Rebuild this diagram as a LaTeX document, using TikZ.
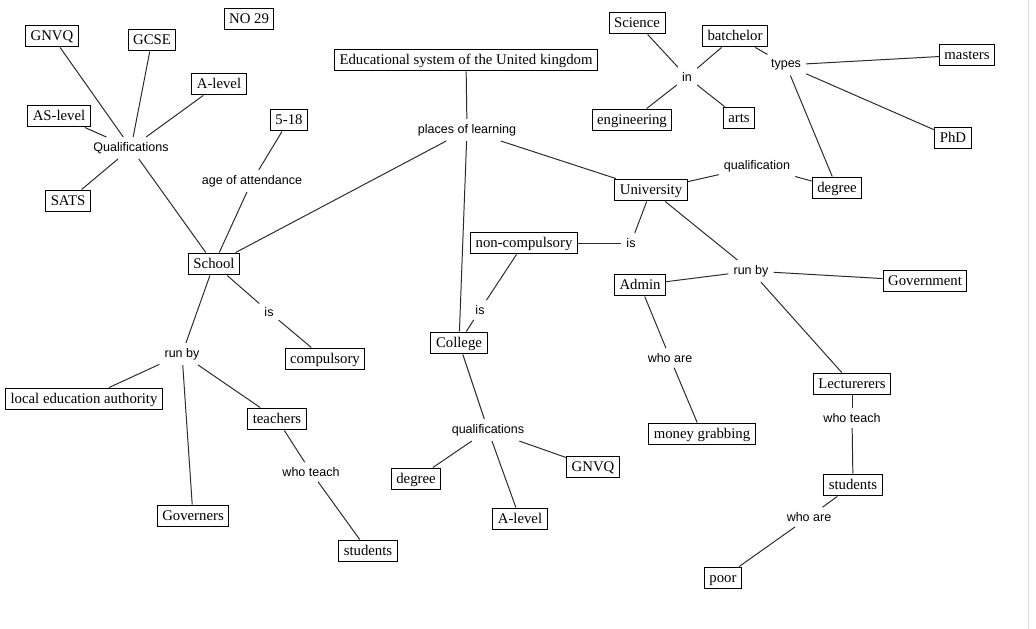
\documentclass[tikz,border=0pt]{standalone}
\usepackage{fontspec}
\setmainfont{Liberation Serif}
\setsansfont{Liberation Sans}
\usetikzlibrary{positioning}
\definecolor{cline}{HTML}{2A2A2A}
\definecolor{cedge}{HTML}{DADADA}
\tikzset{
  box/.style={draw=black, line width=0.7pt, font=\fontsize{10.5}{12}\selectfont,
              inner xsep=3.6pt, inner ysep=2.9pt, text height=8.1pt, text depth=1.7pt},
  lbl/.style={font=\sffamily\fontsize{8.9}{10}\selectfont, inner sep=3.5pt},
  conn/.style={draw=cline, line width=0.7pt},
}
\begin{document}
\begin{tikzpicture}[x=0.025cm, y=-0.025cm]
  \useasboundingbox (0,0) rectangle (1036,629);
  \draw[cedge, line width=0.7pt] (1028,0) -- (1028,629);
  % top of the map
  \node[box] (title) at (466,60) {Educational system of the United kingdom};
  \node[box] (no) at (249,19) {NO 29};
  \node[lbl] (places) at (467,130) {places of learning};
  % School side
  \node[box] (school) at (214,264) {School};
  \node[lbl] (quals) at (131,148) {Qualifications};
  \node[box] (gnvq) at (52,36) {GNVQ};
  \node[box] (gcse) at (152,40) {GCSE};
  \node[box] (alev) at (219,84) {A-level};
  \node[box] (aslev) at (59,116) {AS-level};
  \node[box] (sats) at (68,201) {SATS};
  \node[box] (age) at (289,120) {5-18};
  \node[lbl] (attend) at (252,181) {age of attendance};
  \node[lbl] (sis) at (269,312) {is};
  \node[box] (comp) at (325,359) {compulsory};
  \node[lbl] (srun) at (182,354) {run by};
  \node[box] (lea) at (84,399) {local education authority};
  \node[box] (teach) at (277,419) {teachers};
  \node[box] (gov) at (193,516) {Governers};
  \node[lbl] (tteach) at (311,472) {who teach};
  \node[box] (stud) at (368,551) {students};
  % College
  \node[box] (coll) at (459,343) {College};
  \node[lbl] (cis) at (480,310) {is};
  \node[box] (noncomp) at (524,243) {non-compulsory};
  \node[lbl] (uis) at (631,243) {is};
  \node[lbl] (cquals) at (488,430) {qualifications};
  \node[box] (cdeg) at (416,479) {degree};
  \node[box] (calev) at (520,519) {A-level};
  \node[box] (cgnvq) at (593,467) {GNVQ};
  % University
  \node[box] (uni) at (651,190) {University};
  \node[lbl] (uqual) at (757,166) {qualification};
  \node[box] (udeg) at (837,188) {degree};
  \node[lbl] (types) at (786,65) {types};
  \node[box] (batch) at (735,36) {batchelor};
  \node[box] (mast) at (967,55) {masters};
  \node[box] (phd) at (953,138) {PhD};
  \node[lbl] (in) at (687,77) {in};
  \node[box] (sci) at (637,23) {Science};
  \node[box] (eng) at (632,120) {engineering};
  \node[box] (arts) at (739,118) {arts};
  \node[lbl] (urun) at (751,271) {run by};
  \node[box] (admin) at (640,285) {Admin};
  \node[box] (govt) at (925,281) {Government};
  \node[box] (lect) at (852,384) {Lecturerers};
  \node[lbl] (awho) at (670,358) {who are};
  \node[box] (money) at (702,434) {money grabbing};
  \node[lbl] (lteach) at (852,418) {who teach};
  \node[box] (ustud) at (853,485) {students};
  \node[lbl] (swho) at (809,517) {who are};
  \node[box] (poor) at (723,578) {poor};

  % connectors
  \draw[conn] (title) -- (places);
  \draw[conn] (places) -- (school);
  \draw[conn] (places) -- (coll);
  \draw[conn] (places) -- (uni);
  \draw[conn] (quals) -- (gnvq);
  \draw[conn] (quals) -- (gcse);
  \draw[conn] (quals) -- (alev);
  \draw[conn] (quals) -- (aslev);
  \draw[conn] (quals) -- (sats);
  \draw[conn] (quals) -- (school);
  \draw[conn] (age) -- (attend);
  \draw[conn] (attend) -- (school);
  \draw[conn] (school) -- (sis);
  \draw[conn] (sis) -- (comp);
  \draw[conn] (school) -- (srun);
  \draw[conn] (srun) -- (lea);
  \draw[conn] (srun) -- (gov);
  \draw[conn] (srun) -- (teach);
  \draw[conn] (teach) -- (tteach);
  \draw[conn] (tteach) -- (stud);
  \draw[conn] (coll) -- (cis);
  \draw[conn] (cis) -- (noncomp);
  \draw[conn] (noncomp) -- (uis);
  \draw[conn] (uis) -- (uni);
  \draw[conn] (coll) -- (cquals);
  \draw[conn] (cquals) -- (cdeg);
  \draw[conn] (cquals) -- (calev);
  \draw[conn] (cquals) -- (cgnvq);
  \draw[conn] (uni) -- (uqual);
  \draw[conn] (uqual) -- (udeg);
  \draw[conn] (udeg) -- (types);
  \draw[conn] (types) -- (batch);
  \draw[conn] (types) -- (mast);
  \draw[conn] (types) -- (phd);
  \draw[conn] (batch) -- (in);
  \draw[conn] (in) -- (sci);
  \draw[conn] (in) -- (eng);
  \draw[conn] (in) -- (arts);
  \draw[conn] (uni) -- (urun);
  \draw[conn] (urun) -- (admin);
  \draw[conn] (urun) -- (govt);
  \draw[conn] (urun) -- (lect);
  \draw[conn] (admin) -- (awho);
  \draw[conn] (awho) -- (money);
  \draw[conn] (lect) -- (lteach);
  \draw[conn] (lteach) -- (ustud);
  \draw[conn] (ustud) -- (swho);
  \draw[conn] (swho) -- (poor);
\end{tikzpicture}
\end{document}
